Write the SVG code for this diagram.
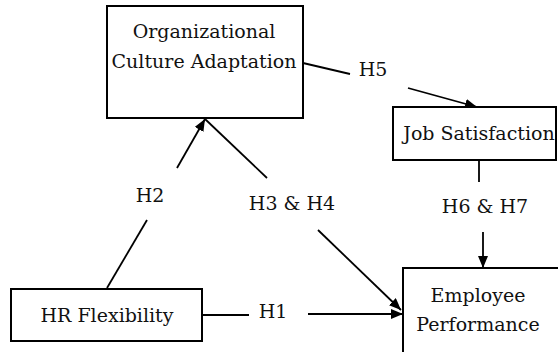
<svg xmlns="http://www.w3.org/2000/svg" width="558" height="352" viewBox="0 0 558 352">
<style>
.box{fill:#fff;stroke:#000;stroke-width:2}
.t{font-family:'DejaVu Serif','Liberation Serif','Times New Roman',Times,serif;font-size:19px;fill:#111;text-anchor:middle}
.c{stroke:#000;stroke-width:1.8;fill:none}
</style>
<defs>
<marker id="ah" viewBox="0 0 12 10" refX="12" refY="5" markerWidth="12" markerHeight="10" markerUnits="userSpaceOnUse" orient="auto">
<path d="M0,0 L12,5 L0,10 Z" fill="#000"/>
</marker>
</defs>
<rect width="558" height="352" fill="#fff"/>
<g id="connectors">
<line class="c" x1="303" y1="63" x2="350" y2="74"/>
<line class="c" x1="408" y1="88" x2="477" y2="107" marker-end="url(#ah)"/>
<line class="c" x1="479" y1="160" x2="479" y2="182"/>
<line class="c" x1="483" y1="232" x2="483" y2="268" marker-end="url(#ah)"/>
<line class="c" x1="203" y1="315" x2="249" y2="315"/>
<line class="c" x1="308" y1="314" x2="403" y2="314" marker-end="url(#ah)"/>
<line class="c" x1="107" y1="288" x2="147" y2="220"/>
<line class="c" x1="177" y1="168" x2="205" y2="119" marker-end="url(#ah)"/>
<line class="c" x1="205" y1="119" x2="267" y2="178"/>
<line class="c" x1="318" y1="230" x2="401" y2="310" marker-end="url(#ah)"/>
<text class="t" x="373" y="76">H5</text>
<text class="t" x="485" y="213">H6 &amp; H7</text>
<text class="t" x="273" y="318">H1</text>
<text class="t" x="150" y="202">H2</text>
<text class="t" x="292" y="210">H3 &amp; H4</text>
</g>
<g id="org">
<rect class="box" x="107" y="6" width="196" height="112"/>
<text class="t" x="204" y="38">Organizational</text>
<text class="t" x="204" y="68">Culture Adaptation</text>
</g>
<g id="job">
<rect class="box" x="393" y="107" width="163" height="53"/>
<text class="t" x="479" y="140">Job Satisfaction</text>
</g>
<g id="emp">
<rect class="box" x="403" y="268" width="170" height="100"/>
<text class="t" x="478" y="302">Employee</text>
<text class="t" x="478" y="331">Performance</text>
</g>
<g id="hr">
<rect class="box" x="11" y="289" width="191" height="52"/>
<text class="t" x="107" y="322">HR Flexibility</text>
</g>
</svg>
